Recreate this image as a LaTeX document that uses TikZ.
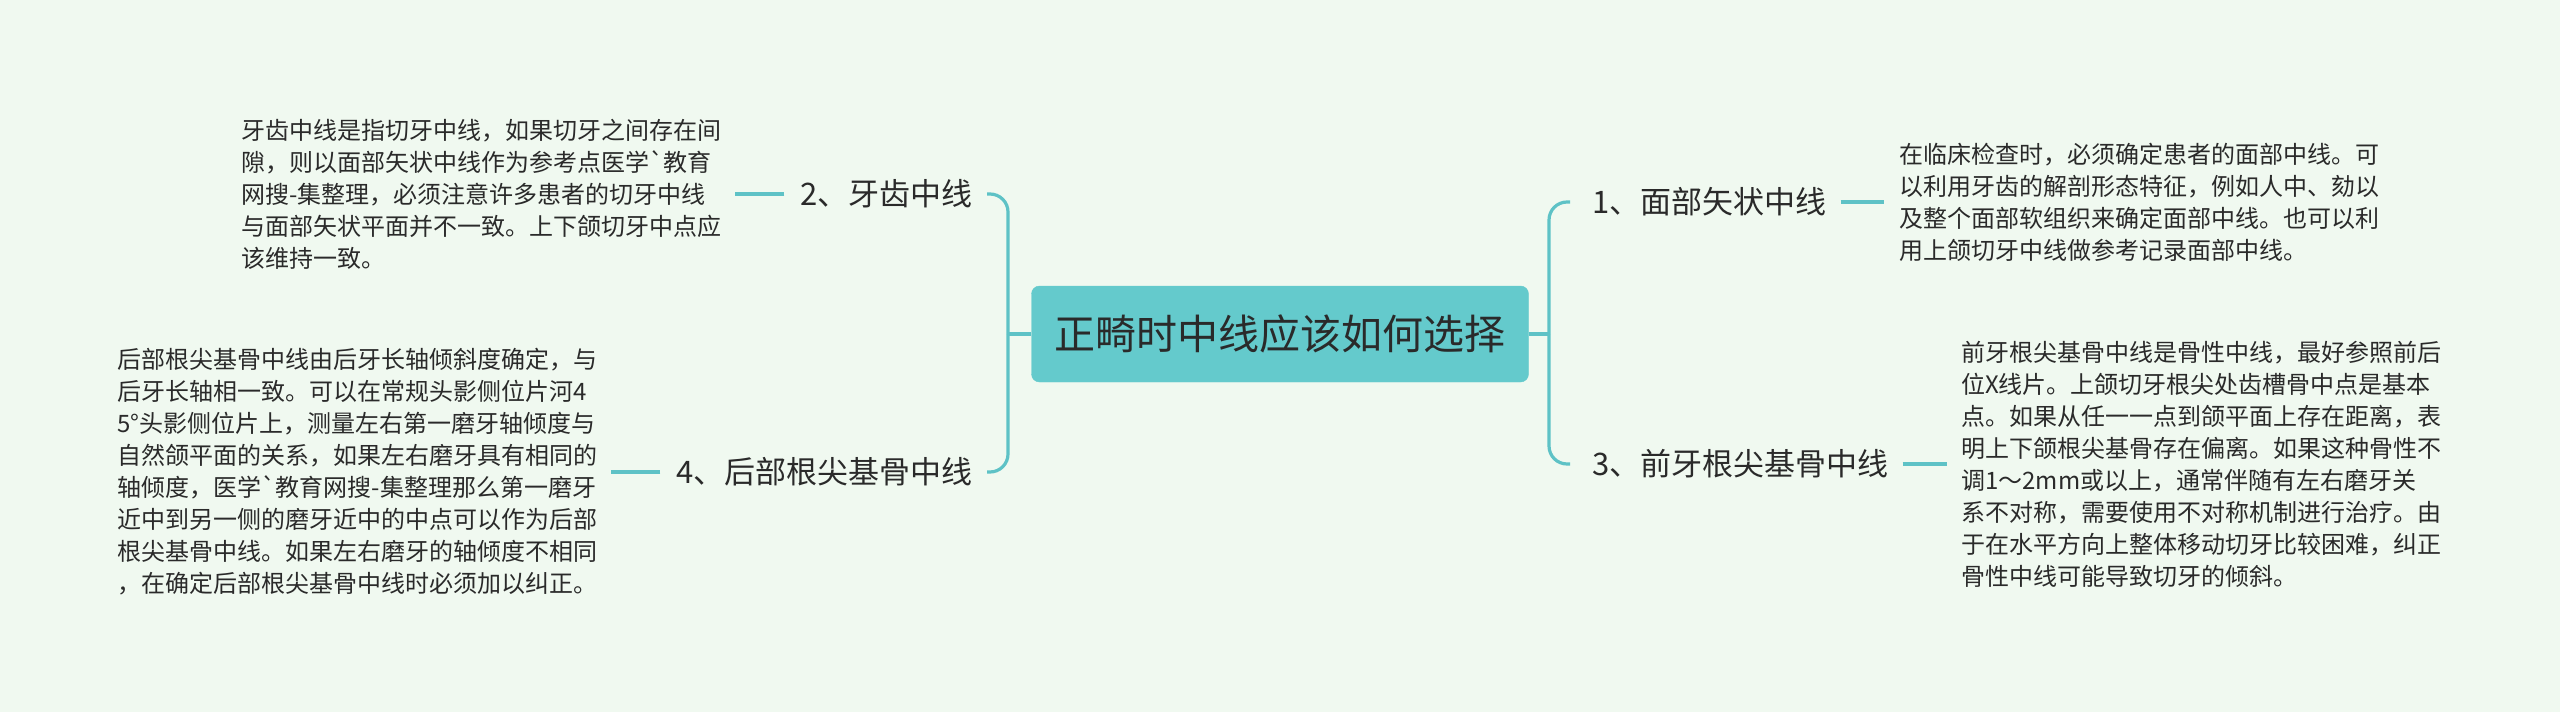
\documentclass[tikz,border=0pt]{standalone}
\usepackage{fontspec}
\setmainfont{Noto Sans CJK SC}
\newcommand{\bqt}{\XeTeXglyph\XeTeXcharglyph"60\relax}
\definecolor{bgc}{HTML}{F0F9F0}
\definecolor{lnc}{HTML}{5EC2C6}
\definecolor{rootc}{HTML}{64CACC}
\definecolor{txc}{HTML}{2A2A2A}
\begin{document}
\begin{tikzpicture}[x=1pt,y=-1pt,
  conn/.style={draw=lnc, line width=3.2pt},
  desc/.style={inner sep=0pt, align=left, font=\fontsize{24}{32}\selectfont, text=txc},
  lbl/.style={inner sep=0pt, font=\fontsize{31}{37}\selectfont, text=txc},
  rootbox/.style={fill=rootc, draw=rootc, rounded corners=8pt, minimum width=497pt, minimum height=96pt, inner sep=0pt, font=\fontsize{41}{50}\selectfont, text=txc}
  ]
\fill[bgc] (0,0) rectangle (2560,712);
\useasboundingbox (0,0) rectangle (2560,712);

\node[rootbox] (root) at (1280,334) {正畸时中线应该如何选择};

\node[lbl, anchor=east] (l2) at (973,194) {2、牙齿中线};
\node[lbl, anchor=east] (l4) at (973,472) {4、后部根尖基骨中线};
\node[lbl, anchor=west] (l1) at (1592,202) {1、面部矢状中线};
\node[lbl, anchor=west] (l3) at (1592,464) {3、前牙根尖基骨中线};

\node[desc, anchor=west] (t2) at (241,194) {牙齿中线是指切牙中线，如果切牙之间存在间\\隙，则以面部矢状中线作为参考点医学\bqt 教育\\网搜-集整理，必须注意许多患者的切牙中线\\与面部矢状平面并不一致。上下颌切牙中点应\\该维持一致。};
\node[desc, anchor=west] (t4) at (117,472) {后部根尖基骨中线由后牙长轴倾斜度确定，与\\后牙长轴相一致。可以在常规头影侧位片河4\\5°头影侧位片上，测量左右第一磨牙轴倾度与\\自然颌平面的关系，如果左右磨牙具有相同的\\轴倾度，医学\bqt 教育网搜-集整理那么第一磨牙\\近中到另一侧的磨牙近中的中点可以作为后部\\根尖基骨中线。如果左右磨牙的轴倾度不相同\\，在确定后部根尖基骨中线时必须加以纠正。};
\node[desc, anchor=west] (t1) at (1899,202) {在临床检查时，必须确定患者的面部中线。可\\以利用牙齿的解剖形态特征，例如人中、劾以\\及整个面部软组织来确定面部中线。也可以利\\用上颌切牙中线做参考记录面部中线。};
\node[desc, anchor=west] (t3) at (1961,464) {前牙根尖基骨中线是骨性中线，最好参照前后\\位X线片。上颌切牙根尖处齿槽骨中点是基本\\点。如果从任一一点到颌平面上存在距离，表\\明上下颌根尖基骨存在偏离。如果这种骨性不\\调1～2mm或以上，通常伴随有左右磨牙关\\系不对称，需要使用不对称机制进行治疗。由\\于在水平方向上整体移动切牙比较困难，纠正\\骨性中线可能导致切牙的倾斜。};

\coordinate (lj) at (1008,334);
\coordinate (rj) at (1549,334);
\draw[conn] (root.west) -- (lj);
\draw[conn] (root.east) -- (rj);
\draw[conn, rounded corners=18pt] (lj) |- ([xshift=14pt]l2.east);
\draw[conn, rounded corners=18pt] (lj) |- ([xshift=14pt]l4.east);
\draw[conn, rounded corners=18pt] (rj) |- ([xshift=-22pt]l1.west);
\draw[conn, rounded corners=18pt] (rj) |- ([xshift=-22pt]l3.west);

\draw[conn] ([xshift=-16pt]l2.west) -- ([xshift=14pt]t2.east);
\draw[conn] ([xshift=-16pt]l4.west) -- ([xshift=14pt]t4.east);
\draw[conn] ([xshift=14pt]l1.east) -- ([xshift=-15pt]t1.west);
\draw[conn] ([xshift=14pt]l3.east) -- ([xshift=-14pt]t3.west);
\end{tikzpicture}
\end{document}
